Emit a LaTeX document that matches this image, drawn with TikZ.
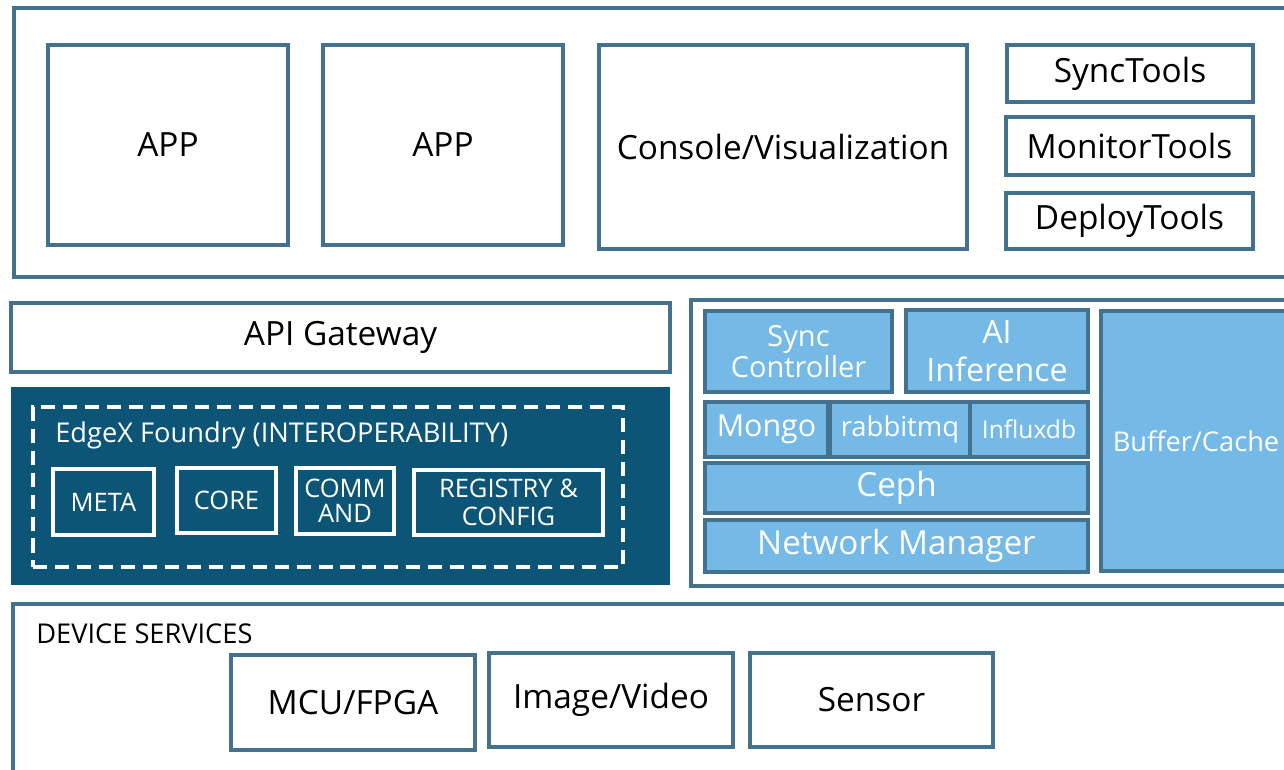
\documentclass[tikz,border=0pt]{standalone}
\usepackage{fontspec}
\setmainfont{Open Sans}

\definecolor{edgeblue}{HTML}{44718D}
\definecolor{darkpanel}{HTML}{0D5577}
\definecolor{lightpanel}{HTML}{75B9E7}

% box from corner (x1,y1) to corner (x2,y2), in pixel units
\newcommand{\pixbox}[7]{
  \node [#6, minimum width={(#4-#2)*0.02cm}, minimum height={(#5-#3)*0.02cm}]
    (#1) at ({(#2+#4)/2},{(#3+#5)/2}) {#7};
}

\tikzset{
  frame/.style={draw=edgeblue, line width=1.8pt, fill=white, inner sep=0pt,
    align=center},
  whitebox/.style={frame, font=\fontsize{19}{22}\selectfont},
  lightbox/.style={draw=edgeblue, line width=2pt, fill=lightpanel, text=white,
    inner sep=0pt, align=center},
  edgexbox/.style={draw=white, line width=1.9pt, text=white, inner sep=0pt,
    align=center, font=\fontsize{14.5}{15}\selectfont},
}

\begin{document}
\begin{tikzpicture}[x=0.02cm, y=-0.02cm]
  \useasboundingbox[fill=white] (0,0) rectangle (1284,769);

  % application layer
  \pixbox{apps}{14}{8}{1300}{277}{frame}{}
  \pixbox{app1}{48}{45}{288}{245}{whitebox}{APP}
  \pixbox{app2}{323}{45}{563}{245}{whitebox}{APP}
  \pixbox{console}{599}{45}{967}{249}{whitebox}{Console/Visualization}
  \pixbox{synctools}{1007}{45}{1253}{102}{whitebox}{SyncTools}
  \pixbox{monitortools}{1006}{117}{1253}{175}{whitebox}{MonitorTools}
  \pixbox{deploytools}{1006}{193}{1253}{249}{whitebox}{DeployTools}

  % gateway and edgex
  \pixbox{gateway}{11}{303}{670}{372}{whitebox}{API Gateway}
  \pixbox{edgex}{11}{387}{670}{585}{fill=darkpanel, inner sep=0pt}{}
  \pixbox{interop}{33}{407}{623}{567}{draw=white, line width=2.2pt,
    dash pattern=on 8pt off 4.5pt}{}
  \node [anchor=west, text=white, inner sep=0pt,
    font=\fontsize{15.5}{17}\selectfont] (edgextitle) at (55,435)
    {EdgeX Foundry (INTEROPERABILITY)};
  \pixbox{meta}{53}{469}{154}{535}{edgexbox}{META}
  \pixbox{core}{177}{468}{276}{533}{edgexbox}{CORE}
  \pixbox{command}{296}{468}{394}{534}{edgexbox}{COMM\\[-1pt]AND}
  \pixbox{registry}{414}{470}{603}{535}{edgexbox}{REGISTRY \&\\[1pt]CONFIG}

  % edge runtime
  \pixbox{runtime}{691}{300}{1300}{586}{frame}{}
  \pixbox{syncctl}{705}{311}{892}{392}{lightbox,
    font=\fontsize{16.5}{18}\selectfont}{Sync\\Controller}
  \pixbox{aiinfer}{906}{310}{1088}{392}{lightbox,
    font=\fontsize{18.3}{21.5}\selectfont}{AI\\Inference}
  \pixbox{mongo}{705}{402}{828}{457}{lightbox,
    font=\fontsize{17.3}{19}\selectfont}{Mongo}
  \pixbox{rabbitmq}{830}{402}{970}{457}{lightbox,
    font=\fontsize{15.6}{17}\selectfont}{rabbitmq}
  \pixbox{influxdb}{970}{402}{1088}{457}{lightbox,
    font=\fontsize{14}{16}\selectfont}{Influxdb}
  \pixbox{ceph}{705}{463}{1088}{513}{lightbox,
    font=\fontsize{18.9}{21}\selectfont}{Ceph}
  \pixbox{netmgr}{705}{520}{1088}{572}{lightbox,
    font=\fontsize{18.9}{21}\selectfont}{Network Manager}
  \pixbox{buffer}{1101}{311}{1300}{571}{lightbox}{}
  \node [text=white, inner sep=0pt, font=\fontsize{15.5}{17}\selectfont]
    (buffertext) at (1196,441) {Buffer/Cache};

  % device services
  \pixbox{devices}{13}{604}{1300}{800}{frame}{}
  \node [anchor=west, inner sep=0pt, font=\fontsize{15.5}{17}\selectfont]
    (devtitle) at (36,634) {DEVICE SERVICES};
  \pixbox{mcu}{231}{655}{475}{750}{whitebox}{MCU/FPGA}
  \pixbox{video}{489}{653}{733}{747}{whitebox}{Image/Video}
  \pixbox{sensor}{750}{653}{993}{747}{whitebox}{Sensor}
\end{tikzpicture}
\end{document}
